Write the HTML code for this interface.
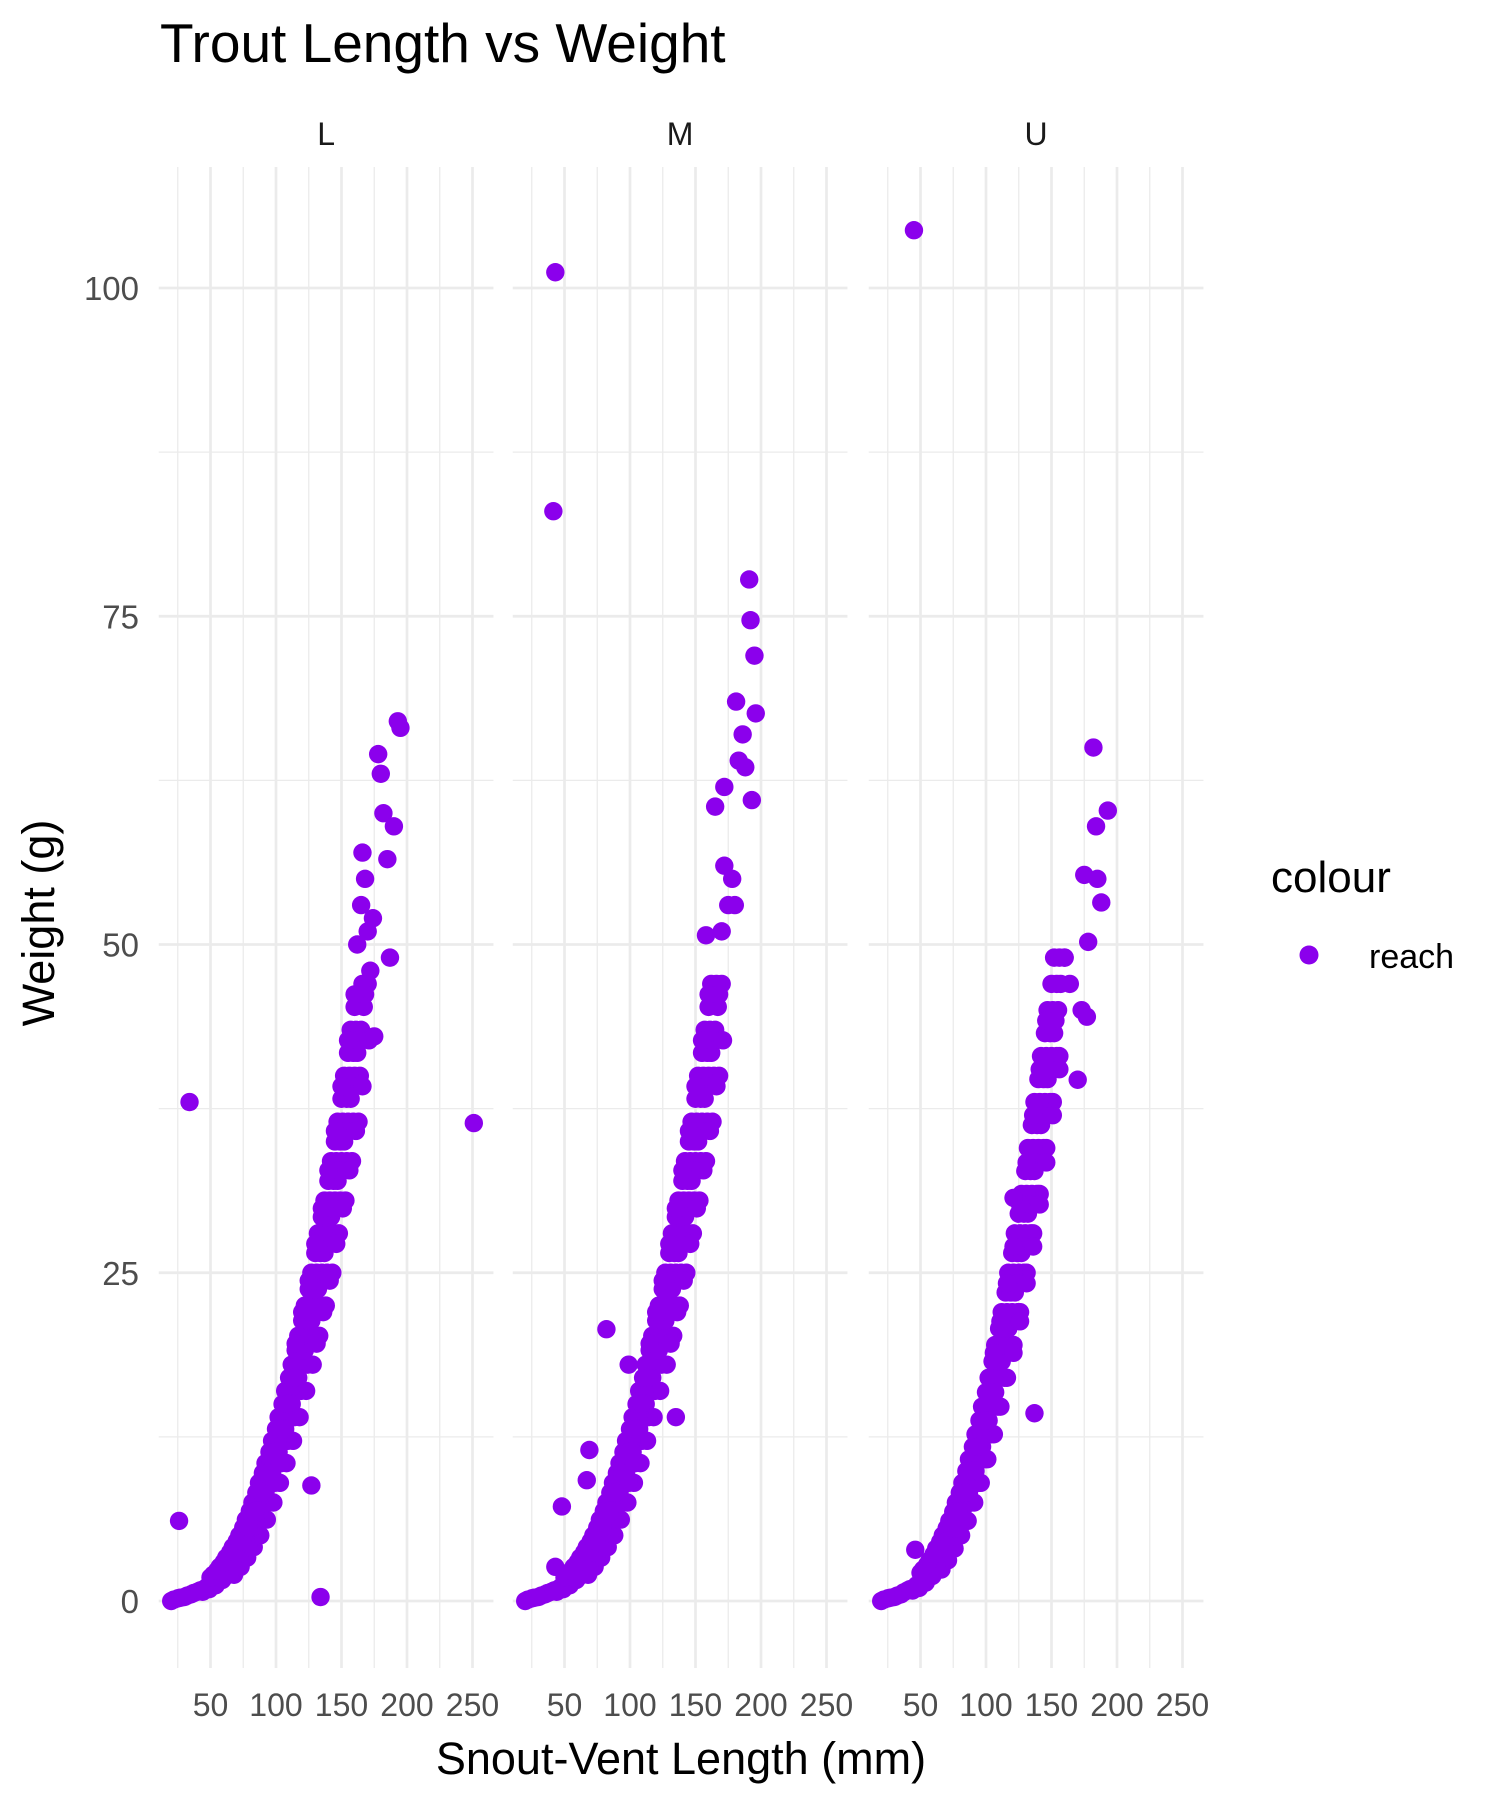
<!DOCTYPE html>
<html><head><meta charset="utf-8"><style>
html,body{margin:0;padding:0;background:#fff;}
svg{display:block;font-family:"Liberation Sans",Arial,sans-serif;}
</style></head><body>
<svg id="chart" width="1500" height="1800" viewBox="0 0 1500 1800" xmlns="http://www.w3.org/2000/svg">
<rect width="1500" height="1800" fill="#fff"/>
<text x="160" y="62" font-size="55" fill="#000">Trout Length vs Weight</text>
<g id="panels"></g>
<text x="681" y="1774" font-size="45" text-anchor="middle" fill="#000">Snout-Vent Length (mm)</text>
<text transform="translate(54,923) rotate(-90)" font-size="45" text-anchor="middle" fill="#000">Weight (g)</text>
<text x="1271" y="892" font-size="44" fill="#000">colour</text>
<circle cx="1309" cy="955" r="9.5" fill="#8B00EC"/>
<text x="1369" y="968" font-size="34" fill="#000">reach</text>
</svg>
<script>
const facets = ["L","M","U"];
const xTicks = [50,100,150,200,250];
const xMinor = [25,75,125,175,225];
const yTicks = [0,25,50,75,100];
const yMinor = [12.5,37.5,62.5,87.5];

const lenL = [20,25,30,35,40,45,50,55,60,65,70,75,80,85,90,95,100,105,110,115,120,125,130,135,140,145,150,155,160,165,170,
 52,57,62,67,72,77,82,87,92,97,102,107,112,117,122,127,132,137,142,147,152,157,
 68,73,78,83,88,93,98,103,108,113,118,123,128,133,138,143,148,153,158,163,
 44,49,54,59,64,69,74,79,84,89,94,99,104,109,114,119,124,129,134,139,144,149,154,159,164,
 56,61,66,71,76,81,86,91,96,101,106,111,116,121,126,131,136,141,146,151,156,161,166,
 22,27,32,37,42,47,52,57,62,67,72,77,82,87,92,97,102,107,112,117,122,127,132,137,142,147,152,157,162,167,
 50,55,60,65,70,75,80,85,90,95,100,105,110,115,120,125,130,135,140,145,150,155,160,
 69,74,79,84,89,94,99,104,109,114,119,124,129,134,139,144,149,154,159,
 123,128,133,138,143,148,153,158,163,168,
 115,120,125,130,135,140,145,150,155,160,
 131,136,141,146,151,156,161,166,171,
 162,165,168,170,172,175,178,180,182,185,187,190,193,195,166,174,
 34,251,127,134,26];
const wtL = [0,0.2,0.3,0.5,0.7,0.9,1.2,1.6,2,2.6,3.3,4.1,5,6.2,7.5,9,10.5,12.2,14,16,18,20.2,22.5,25,28,30.5,33.5,36.5,40,43.5,47,
 2,2.6,3.3,4.1,5,6.2,7.5,9,10.5,12.2,14,16,18,20.2,22.5,25,28,30.5,33.5,36.5,40,43.5,
 2,2.6,3.3,4.1,5,6.2,7.5,9,10.5,12.2,14,16,18,20.2,22.5,25,28,30.5,33.5,36.5,
 0.7,0.9,1.2,1.6,2,2.6,3.3,4.1,5,6.2,7.5,9,10.5,12.2,14,16,18,20.2,22.5,25,28,30.5,33.5,36.5,40,
 2,2.6,3.3,4.1,5,6.2,7.5,9,10.5,12.2,14,16,18,20.2,22.5,25,28,30.5,33.5,36.5,40,43.5,47,
 0.1,0.25,0.4,0.6,0.8,1.05,1.4,1.8,2.3,2.95,3.7,4.55,5.6,6.85,8.25,9.75,11.35,13.1,15,17,19.1,21.35,23.75,26.5,29.25,32,35,38.25,41.75,45.25,
 1.8,2.3,2.95,3.7,4.55,5.6,6.85,8.25,9.75,11.35,13.1,15,17,19.1,21.35,23.75,26.5,29.25,32,35,38.25,41.75,45.25,
 3.7,4.55,5.6,6.85,8.25,9.75,11.35,13.1,15,17,19.1,21.35,23.75,26.5,29.25,32,35,38.25,41.75,
 19.6,22,24.4,27.2,29.9,32.8,35.8,39.2,42.7,46.2,
 19.6,22,24.4,27.2,29.9,32.8,35.8,39.2,42.7,46.2,
 19.6,22,24.4,27.2,29.9,32.8,35.8,39.2,42.7,
 50,53,55,51,48,43,64.5,63,60,56.5,49,59,67,66.5,57,52,
 38,36.4,8.8,0.3,6.1];

const lenM = [20,25,30,35,40,45,50,55,60,65,70,75,80,85,90,95,100,105,110,115,120,125,130,135,140,145,150,155,160,165,170,
 52,57,62,67,72,77,82,87,92,97,102,107,112,117,122,127,132,137,142,147,152,157,162,
 68,73,78,83,88,93,98,103,108,113,118,123,128,133,138,143,148,153,158,163,168,
 44,49,54,59,64,69,74,79,84,89,94,99,104,109,114,119,124,129,134,139,144,149,154,159,164,
 56,61,66,71,76,81,86,91,96,101,106,111,116,121,126,131,136,141,146,151,156,161,166,
 22,27,32,37,42,47,52,57,62,67,72,77,82,87,92,97,102,107,112,117,122,127,132,137,142,147,152,157,162,167,
 50,55,60,65,70,75,80,85,90,95,100,105,110,115,120,125,130,135,140,145,150,155,160,
 69,74,79,84,89,94,99,104,109,114,119,124,129,134,139,144,149,154,159,
 123,128,133,138,143,148,153,158,163,168,
 115,120,125,130,135,140,145,150,155,160,
 131,136,141,146,151,156,161,166,171,
 158,165,172,172,175,178,180,181,183,186,188,191,192,195,196,193,170,
 43,41.5,82,99,135,48,69,67,43];
const wtM = [0,0.2,0.3,0.5,0.7,0.9,1.2,1.6,2,2.6,3.3,4.1,5,6.2,7.5,9,10.5,12.2,14,16,18,20.2,22.5,25,28,30.5,33.5,36.5,40,43.5,47,
 2,2.6,3.3,4.1,5,6.2,7.5,9,10.5,12.2,14,16,18,20.2,22.5,25,28,30.5,33.5,36.5,40,43.5,47,
 2,2.6,3.3,4.1,5,6.2,7.5,9,10.5,12.2,14,16,18,20.2,22.5,25,28,30.5,33.5,36.5,40,
 0.7,0.9,1.2,1.6,2,2.6,3.3,4.1,5,6.2,7.5,9,10.5,12.2,14,16,18,20.2,22.5,25,28,30.5,33.5,36.5,40,
 2,2.6,3.3,4.1,5,6.2,7.5,9,10.5,12.2,14,16,18,20.2,22.5,25,28,30.5,33.5,36.5,40,43.5,47,
 0.1,0.25,0.4,0.6,0.8,1.05,1.4,1.8,2.3,2.95,3.7,4.55,5.6,6.85,8.25,9.75,11.35,13.1,15,17,19.1,21.35,23.75,26.5,29.25,32,35,38.25,41.75,45.25,
 1.8,2.3,2.95,3.7,4.55,5.6,6.85,8.25,9.75,11.35,13.1,15,17,19.1,21.35,23.75,26.5,29.25,32,35,38.25,41.75,45.25,
 3.7,4.55,5.6,6.85,8.25,9.75,11.35,13.1,15,17,19.1,21.35,23.75,26.5,29.25,32,35,38.25,41.75,
 19.6,22,24.4,27.2,29.9,32.8,35.8,39.2,42.7,46.2,
 19.6,22,24.4,27.2,29.9,32.8,35.8,39.2,42.7,46.2,
 19.6,22,24.4,27.2,29.9,32.8,35.8,39.2,42.7,
 50.7,60.5,62,56,53,55,53,68.5,64,66,63.5,77.8,74.7,72,67.6,61,51,
 101.2,83,20.7,18,14,7.2,11.5,9.2,2.6];

const lenU = [20,25,30,35,40,45,50,55,60,65,70,75,80,85,90,95,100,105,110,115,120,125,130,135,140,145,150,155,160,
 52,57,62,67,72,77,82,87,92,97,102,107,112,117,122,127,132,137,142,147,152,
 66,71,76,81,86,91,96,101,106,111,116,121,126,131,136,141,146,151,156,
 44,49,54,59,64,69,74,79,84,89,94,99,104,109,114,119,124,129,134,139,144,149,154,
 56,61,66,71,76,81,86,91,96,101,106,111,116,121,126,131,136,141,146,151,156,
 22,27,32,37,42,47,52,57,62,67,72,77,82,87,92,97,102,107,112,117,122,127,132,137,142,147,152,157,
 50,55,60,65,70,75,80,85,90,95,100,105,110,115,120,125,130,135,140,145,150,
 69,74,79,84,89,94,99,104,109,114,119,124,129,134,139,144,149,154,
 113,118,123,128,133,138,143,148,153,
 106,111,116,121,126,131,136,141,146,
 121,126,131,136,141,146,151,156,
 160,164,170,173,175,177,178,182,184,185,188,193,
 45,46,121,137];
const wtU = [0,0.2,0.3,0.5,0.8,1,1.4,1.9,2.4,3.1,4,5,6.1,7.5,9,10.8,12.7,14.8,17,19.5,22,25,28,31,34.5,38,41.5,45,49,
 2.4,3.1,4,5,6.1,7.5,9,10.8,12.7,14.8,17,19.5,22,25,28,31,34.5,38,41.5,45,49,
 2.4,3.1,4,5,6.1,7.5,9,10.8,12.7,14.8,17,19.5,22,25,28,31,34.5,38,41.5,
 0.8,1,1.4,1.9,2.4,3.1,4,5,6.1,7.5,9,10.8,12.7,14.8,17,19.5,22,25,28,31,34.5,38,41.5,
 2.4,3.1,4,5,6.1,7.5,9,10.8,12.7,14.8,17,19.5,22,25,28,31,34.5,38,41.5,45,49,
 0.1,0.25,0.4,0.65,0.9,1.2,1.65,2.15,2.75,3.55,4.5,5.55,6.8,8.25,9.9,11.75,13.75,15.9,18.25,20.75,23.5,26.5,29.5,32.75,36.25,39.75,43.25,47,
 2.15,2.75,3.55,4.5,5.55,6.8,8.25,9.9,11.75,13.75,15.9,18.25,20.75,23.5,26.5,29.5,32.75,36.25,39.75,43.25,47,
 4.5,5.55,6.8,8.25,9.9,11.75,13.75,15.9,18.25,20.75,23.5,26.5,29.5,32.75,36.25,39.75,43.25,47,
 18.9,21.3,24.2,27,30.2,33.4,37,40.5,44.2,
 18.9,21.3,24.2,27,30.2,33.4,37,40.5,44.2,
 18.9,21.3,24.2,27,30.2,33.4,37,40.5,
 49,47,39.7,45,55.3,44.5,50.2,65,59,55,53.2,60.2,
 104.4,3.9,30.7,14.3];

const lengths = [lenL, lenM, lenU];
const weights = [wtL, wtM, wtU];

const NS = "http://www.w3.org/2000/svg";
const panelX0 = [145, 499, 855];
const pxPerMM = 1.31;
const y0 = 1601, pxPerG = 13.13;
const panelTop = 167, panelBottom = 1668;
function xScale(v, p){ return panelX0[p] + v * pxPerMM; }
function yScale(w){ return y0 - w * pxPerG; }
function mk(tag, attrs){ const e = document.createElementNS(NS, tag); for (const k in attrs) e.setAttribute(k, attrs[k]); return e; }

const root = document.getElementById("panels");
facets.forEach((f, p) => {
  const g = mk("g", {});
  
  
  const left = xScale(10.5, p), right = xScale(266, p);
  yMinor.forEach(t => {
    const l = mk("line", {x1:left, x2:right, y1:yScale(t), y2:yScale(t), stroke:"#ebebeb", "stroke-width":1.3});
    
    
    g.appendChild(l);
  });
  xMinor.forEach(t => {
    const l = mk("line", {x1:xScale(t,p), x2:xScale(t,p), y1:panelTop, y2:panelBottom, stroke:"#ebebeb", "stroke-width":1.3});
    
    
    g.appendChild(l);
  });
  yTicks.forEach(t => {
    const l = mk("line", {x1:left, x2:right, y1:yScale(t), y2:yScale(t), stroke:"#ebebeb", "stroke-width":2.7});
    
    
    g.appendChild(l);
  });
  xTicks.forEach(t => {
    const l = mk("line", {x1:xScale(t,p), x2:xScale(t,p), y1:panelTop, y2:panelBottom, stroke:"#ebebeb", "stroke-width":2.7});
    
    
    g.appendChild(l);
    const tx = mk("text", {x:xScale(t,p), y:1716, "font-size":32, fill:"#4d4d4d", "text-anchor":"middle"});
    tx.textContent = t;
    
    
    g.appendChild(tx);
  });
  const strip = mk("text", {x:(left+right)/2, y:145, "font-size":32, fill:"#1a1a1a", "text-anchor":"middle"});
  strip.textContent = f;
  
  
  g.appendChild(strip);
  const ls = lengths[p], ws = weights[p];
  for (let i = 0; i < ls.length; i++) {
    const c = mk("circle", {cx:xScale(ls[i],p), cy:yScale(ws[i]), r:9.2, fill:"#8B00EC"});
    
    
    g.appendChild(c);
  }
  root.appendChild(g);
});
yTicks.forEach(t => {
  const tx = mk("text", {x:139, y:yScale(t)+12, "font-size":33, fill:"#4d4d4d", "text-anchor":"end"});
  tx.textContent = t;
  
  
  root.appendChild(tx);
});
</script>
</body></html>
